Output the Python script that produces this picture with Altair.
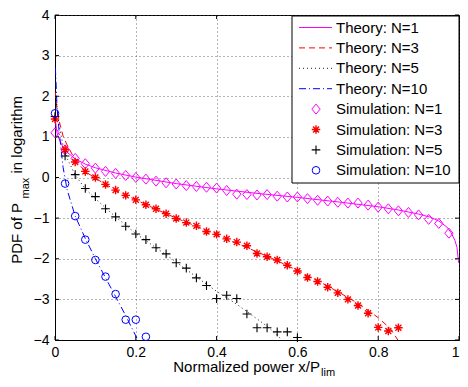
import altair as alt
import pandas as pd

# ---------------- data ----------------
x_ticks = [0, 0.2, 0.4, 0.6, 0.8, 1.0]
y_ticks = [-4, -3, -2, -1, 0, 1, 2, 3, 4]

sim_x = [0.0, 0.025, 0.05, 0.075, 0.1, 0.125, 0.15, 0.175, 0.2, 0.225,
         0.25, 0.275, 0.3, 0.325, 0.35, 0.375, 0.4, 0.425, 0.45, 0.475,
         0.5, 0.525, 0.55, 0.575, 0.6, 0.625, 0.65, 0.675, 0.7, 0.725,
         0.75, 0.775, 0.8, 0.825, 0.85, 0.875, 0.9, 0.925, 0.95, 0.975]

sim_n1 = [1.10, 0.68, 0.47, 0.34, 0.23, 0.15, 0.10, 0.05, 0.00, -0.04,
          -0.09, -0.13, -0.16, -0.20, -0.22, -0.24, -0.26, -0.32, -0.41, -0.42,
          -0.43, -0.42, -0.46, -0.48, -0.48, -0.52, -0.56, -0.58, -0.61, -0.63,
          -0.63, -0.68, -0.73, -0.77, -0.82, -0.86, -0.92, -1.03, -1.13, -1.37]
sim_n3 = [1.44, 0.69, 0.38, 0.15, 0.00, -0.17, -0.31, -0.44, -0.55, -0.67,
          -0.77, -0.89, -1.01, -1.11, -1.19, -1.33, -1.40, -1.51, -1.59, -1.68,
          -1.87, -1.95, -2.03, -2.16, -2.30, -2.46, -2.56, -2.70, -2.84, -3.00,
          -3.15, -3.34, -3.69, -3.78, -3.70]
sim_n5 = [1.50, 0.53, 0.07, -0.27, -0.47, -0.77, -0.97, -1.20, -1.39, -1.53,
          -1.73, -1.88, -2.10, -2.23, -2.47, -2.66, -2.98, -2.90, -2.98, -3.36,
          -3.70, -3.70, -3.80, -3.80, -3.94]
sim_n10 = [1.58, -0.15, -0.95, -1.53, -2.03, -2.44, -2.87, -3.50, -3.50, -3.92]

th1_x = [0.001, 0.005, 0.01, 0.02, 0.03, 0.05, 0.075, 0.1, 0.15, 0.2, 0.3, 0.4,
         0.5, 0.6, 0.7, 0.8, 0.85, 0.9, 0.93, 0.95, 0.97, 0.98, 0.99, 0.995, 0.999]
th1_y = [1.40, 1.10, 0.95, 0.74, 0.62, 0.46, 0.33, 0.24, 0.11, 0.01, -0.15, -0.28,
         -0.39, -0.49, -0.60, -0.72, -0.80, -0.90, -0.98, -1.07, -1.22, -1.35, -1.55, -1.72, -2.10]
th3_x = [0.001, 0.005, 0.01, 0.02, 0.03, 0.05, 0.075, 0.1, 0.15, 0.2, 0.25, 0.3,
         0.35, 0.4, 0.45, 0.5, 0.55, 0.6, 0.65, 0.7, 0.75, 0.8, 0.83, 0.85, 0.86]
th3_y = [2.10, 1.65, 1.40, 1.02, 0.80, 0.43, 0.15, -0.02, -0.31, -0.55, -0.78, -1.00,
         -1.20, -1.41, -1.62, -1.83, -2.05, -2.29, -2.54, -2.81, -3.10, -3.45, -3.72, -4.02, -4.10]
th5_x = [0.001, 0.005, 0.01, 0.02, 0.03, 0.05, 0.075, 0.1, 0.15, 0.2, 0.25, 0.3,
         0.35, 0.4, 0.45, 0.5, 0.53, 0.56, 0.57]
th5_y = [2.30, 1.70, 1.30, 0.78, 0.47, 0.06, -0.28, -0.52, -0.97, -1.38, -1.73, -2.08,
         -2.45, -2.80, -3.12, -3.48, -3.70, -3.98, -4.10]
th10_x = [0.001, 0.005, 0.01, 0.02, 0.03, 0.05, 0.075, 0.1, 0.125, 0.15, 0.175, 0.2, 0.21]
th10_y = [2.70, 1.75, 1.15, 0.25, -0.30, -0.95, -1.50, -2.00, -2.47, -2.93, -3.40, -3.90, -4.10]

theory_labels = ["Theory: N=1", "Theory: N=3", "Theory: N=5", "Theory: N=10"]
sim_labels = ["Simulation: N=1", "Simulation: N=3", "Simulation: N=5", "Simulation: N=10"]

# ---------------- styles ----------------
FONT = "Liberation Sans"
W, H = 404, 325
colors = ["#ff00ff", "#ff0000", "#000000", "#0000ff"]
dashes = [None, [6, 4], [1, 3], [7, 3, 1, 3]]
line_widths = [1.0, 1.0, 0.9, 1.0]
DIAMOND = "M -0.83 0 L 0 -1 L 0.83 0 L 0 1 Z"
STAR = "M -1 0 L 1 0 M 0 -1 L 0 1 M -0.7 -0.7 L 0.7 0.7 M -0.7 0.7 L 0.7 -0.7"
PLUS = "M -1 0 L 1 0 M 0 -1 L 0 1"
shapes = [DIAMOND, STAR, PLUS, "circle"]
sizes = [100, 72, 75, 58]
mstroke = [1.0, 1.4, 1.1, 1.0]


def line_style(i):
    kw = dict(color=colors[i], strokeWidth=line_widths[i])
    if dashes[i] is not None:
        kw["strokeDash"] = dashes[i]
    return kw


xscale = alt.Scale(domain=[0, 1], nice=False, zero=False)
yscale = alt.Scale(domain=[-4, 4], nice=False, zero=False)
xaxis = alt.Axis(values=x_ticks, format="~g", title=None, grid=True, gridDash=[1, 3],
                 gridColor="#444", gridWidth=0.8, tickSize=0, labelFont=FONT,
                 labelFontSize=14, labelColor="black", labelPadding=5, labelFlush=False,
                 labelOverlap=False, domainColor="black", domainWidth=1,
                 labelAlign=alt.condition("datum.value == 1", alt.value("right"), alt.value("center")))
yaxis = alt.Axis(values=y_ticks, format="~g", title=None, grid=True, gridDash=[1, 3],
                 gridColor="#444", gridWidth=0.8, tickSize=0, labelFont=FONT,
                 labelFontSize=14, labelColor="black", labelPadding=6, labelFlush=False,
                 labelOverlap=False, domainColor="black", domainWidth=1)


def X(f):
    return alt.X(f, type="quantitative", scale=xscale, axis=xaxis)


def Y(f):
    return alt.Y(f, type="quantitative", scale=yscale, axis=yaxis)


layers = []

theories = [(th1_x, th1_y), (th3_x, th3_y), (th5_x, th5_y), (th10_x, th10_y)]
sims = [sim_n1, sim_n3, sim_n5, sim_n10]

for i, (tx, ty) in enumerate(theories):
    df = pd.DataFrame({"x": tx, "y": ty})
    layers.append(alt.Chart(df).mark_line(clip=True, **line_style(i))
                  .encode(x=X("x"), y=Y("y")))

for i, vals in enumerate(sims):
    df = pd.DataFrame({"x": sim_x[:len(vals)], "y": vals})
    layers.append(alt.Chart(df).mark_point(shape=shapes[i], color=colors[i], size=sizes[i],
                                           strokeWidth=mstroke[i], filled=False, opacity=1)
                  .encode(x=X("x"), y=Y("y")))

# inward ticks
tx_df = pd.DataFrame({"x": x_ticks})
ty_df = pd.DataFrame({"y": y_ticks})
layers.append(alt.Chart(tx_df).mark_rule(color="black", strokeWidth=1)
              .encode(x=X("x"), y=alt.value(H), y2=alt.value(H - 4)))
layers.append(alt.Chart(tx_df).mark_rule(color="black", strokeWidth=1)
              .encode(x=X("x"), y=alt.value(0), y2=alt.value(4)))
layers.append(alt.Chart(ty_df).mark_rule(color="black", strokeWidth=1)
              .encode(y=Y("y"), x=alt.value(0), x2=alt.value(4)))
layers.append(alt.Chart(ty_df).mark_rule(color="black", strokeWidth=1)
              .encode(y=Y("y"), x=alt.value(W), x2=alt.value(W - 4)))

one = pd.DataFrame({"k": [0]})

# legend box
LB = W - 167
layers.append(alt.Chart(one).mark_rect(fill="white", stroke="black", strokeWidth=1)
              .encode(x=alt.value(LB), x2=alt.value(W), y=alt.value(1), y2=alt.value(168)))

row_y = [12.5 + 20.4 * k for k in range(8)]
for i in range(4):
    ry = row_y[i]
    layers.append(alt.Chart(one).mark_rule(**line_style(i))
                  .encode(x=alt.value(LB + 7), x2=alt.value(LB + 40), y=alt.value(ry)))
    layers.append(alt.Chart(one).mark_text(align="left", baseline="middle", font=FONT,
                                           fontSize=15, color="black")
                  .encode(x=alt.value(LB + 44), y=alt.value(ry), text=alt.value(theory_labels[i])))
for i in range(4):
    ry = row_y[4 + i]
    layers.append(alt.Chart(one).mark_point(shape=shapes[i], color=colors[i], size=sizes[i],
                                            strokeWidth=mstroke[i], filled=False, opacity=1)
                  .encode(x=alt.value(LB + 24), y=alt.value(ry)))
    layers.append(alt.Chart(one).mark_text(align="left", baseline="middle", font=FONT,
                                           fontSize=15, color="black")
                  .encode(x=alt.value(LB + 44), y=alt.value(ry), text=alt.value(sim_labels[i])))

# axis titles with subscripts
layers.append(alt.Chart(one).mark_text(align="right", baseline="alphabetic", font=FONT,
                                       fontSize=15, color="black")
              .encode(x=alt.value(265), y=alt.value(357), text=alt.value("Normalized power x/P")))
layers.append(alt.Chart(one).mark_text(align="left", baseline="alphabetic", font=FONT,
                                       fontSize=11, color="black")
              .encode(x=alt.value(266), y=alt.value(361), text=alt.value("lim")))
layers.append(alt.Chart(one).mark_text(align="right", baseline="alphabetic", font=FONT,
                                       fontSize=15, color="black", angle=270)
              .encode(x=alt.value(-33), y=alt.value(188), text=alt.value("PDF of P")))
layers.append(alt.Chart(one).mark_text(align="left", baseline="alphabetic", font=FONT,
                                       fontSize=11, color="black", angle=270)
              .encode(x=alt.value(-26), y=alt.value(183.5), text=alt.value("max")))
layers.append(alt.Chart(one).mark_text(align="left", baseline="alphabetic", font=FONT,
                                       fontSize=15, color="black", angle=270)
              .encode(x=alt.value(-33), y=alt.value(158.5), text=alt.value("in logarithm")))

chart = alt.layer(*layers).properties(
    width=W, height=H,
    autosize=alt.AutoSizeParams(type="none"),
    padding={"left": 47, "top": 7, "right": 1, "bottom": 39},
    background="white",
).configure_view(stroke="black", strokeWidth=1)

chart.save("out.html", embed_options={"renderer": "svg", "actions": False})
